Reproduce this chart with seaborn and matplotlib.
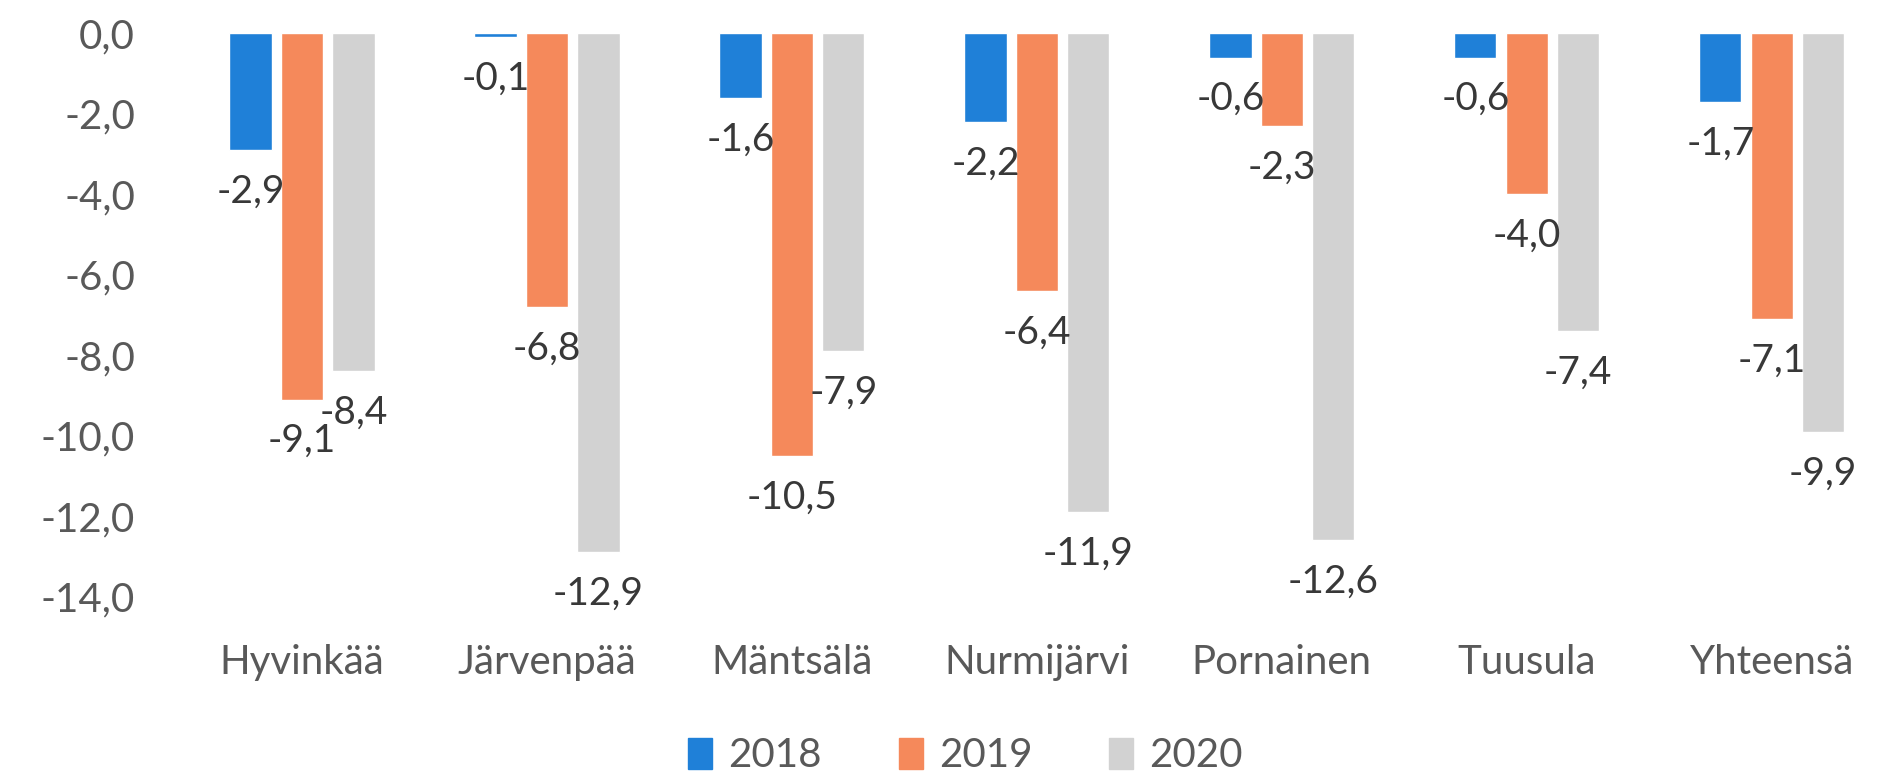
import pandas as pd
import seaborn as sns
import matplotlib.pyplot as plt
from matplotlib.patches import Patch

kunnat = ["Hyvinkää", "Järvenpää", "Mäntsälä", "Nurmijärvi", "Pornainen", "Tuusula", "Yhteensä"]
vuodet = ["2018", "2019", "2020"]
v2018 = [-2.9, -0.1, -1.6, -2.2, -0.6, -0.6, -1.7]
v2019 = [-9.1, -6.8, -10.5, -6.4, -2.3, -4.0, -7.1]
v2020 = [-8.4, -12.9, -7.9, -11.9, -12.6, -7.4, -9.9]
yticks = [0, -2, -4, -6, -8, -10, -12, -14]

colors = ["#1f80d8", "#f5895b", "#d2d2d2"]

df = pd.DataFrame({
    "kunta": kunnat * 3,
    "vuosi": [y for y in vuodet for _ in kunnat],
    "arvo": v2018 + v2019 + v2020,
})

sns.set_style("white")
plt.rcParams["font.family"] = ["Lato", "DejaVu Sans"]

fig = plt.figure(figsize=(18.82, 7.75), dpi=100)
ax = fig.add_axes([0.0954, 0.230, 0.9046, 0.728])

sns.barplot(data=df, x="kunta", y="arvo", hue="vuosi", palette=colors,
            width=0.63, gap=0.18, ax=ax, legend=False, saturation=1)

for cont in ax.containers:
    vals = [b.get_height() for b in cont]
    ax.bar_label(cont, labels=[f"{v:.1f}".replace(".", ",") for v in vals],
                 padding=17, fontsize=28, color="#383838")

ax.set_ylim(-14, 0.02)
ax.set_xlim(-0.5, 6.45)
ax.set_yticks(yticks)
ax.set_yticklabels([f"{v:.1f}".replace(".", ",") for v in yticks])
ax.tick_params(axis="y", labelsize=29, labelcolor="#595959", pad=32, length=0)
ax.tick_params(axis="x", labelsize=29, labelcolor="#595959", pad=34, length=0)
ax.set_xlabel("")
ax.set_ylabel("")
sns.despine(ax=ax, left=True, bottom=True)

handles = [Patch(color=c, label=l) for c, l in zip(colors, vuodet)]
fig.legend(handles=handles, loc="center", bbox_to_anchor=(0.513, 0.025), ncol=3,
           frameon=False, fontsize=29, handlelength=0.6, handleheight=0.8,
           handletextpad=0.4, columnspacing=1.9, labelcolor="#595959")

fig.savefig("out.png", dpi=100)
